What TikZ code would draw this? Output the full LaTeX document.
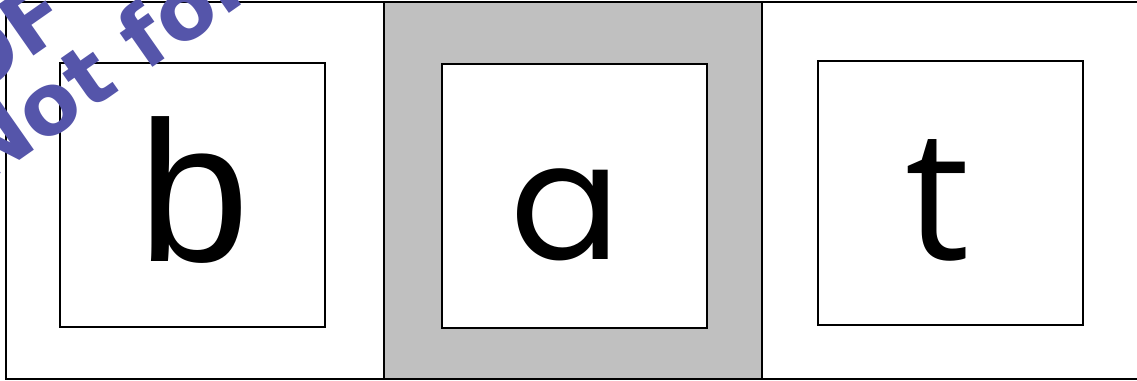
\documentclass[tikz,border=0pt]{standalone}
\usepackage{fontspec}
\setmainfont{Liberation Sans}
\newfontfamily\bfont{Liberation Sans}
\newfontfamily\afont{Poppins}
\newfontfamily\tfont{Open Sans}
\newfontfamily\wmfont{DejaVu Sans}
\definecolor{panelgray}{RGB}{192,192,192}
\definecolor{wmblue}{RGB}{85,85,170}
\tikzset{
  panel/.style={draw=black,line width=1.4pt},
  innerbox/.style={draw=black,fill=white,line width=1.4pt},
  bigletter/.style={inner sep=0pt,anchor=base,text=black},
  watermark/.style={inner sep=0pt,text=wmblue,rotate=35,font=\wmfont\bfseries\fontsize{85pt}{85pt}\selectfont}
}
\begin{document}
\begin{tikzpicture}[x=1pt,y=-1pt]
\useasboundingbox (0,0) rectangle (1137,380);
\clip (0,0) rectangle (1137,380);
\fill[white] (0,0) rectangle (1137,380);
% outer panels
\draw[panel] (6,2) rectangle (384,379);
\draw[panel,fill=panelgray] (384,2) rectangle (762,379);
\draw[panel] (762,2) rectangle (1145,379);
% inner boxes
\draw[innerbox] (60,63) rectangle (325,327);
\draw[innerbox] (442,64) rectangle (707,328);
\draw[innerbox] (818,61) rectangle (1083,325);
% letters
\node[bigletter,font=\bfont\fontsize{200pt}{200pt}\selectfont] (lb) at (194,261) {b};
\node[bigletter,font=\afont\fontsize{163pt}{163pt}\selectfont] (la) at (566,259) {a};
\node[bigletter,font=\tfont\fontsize{182pt}{182pt}\selectfont] (lt) at (938,259) {t};
% watermark
\node[watermark,anchor=base east] (wm1) at (75,27) {PROOF};
\node[watermark,anchor=base west] (wm2) at (-18,187) {Not for distribution};
\end{tikzpicture}
\end{document}
